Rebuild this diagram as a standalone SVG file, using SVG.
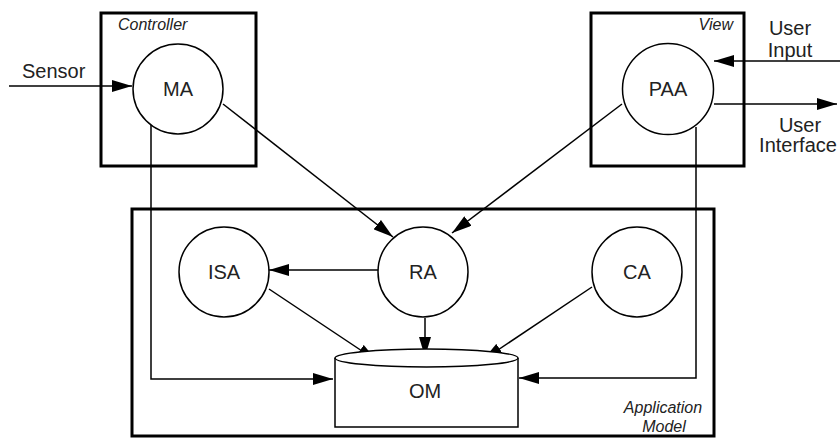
<svg xmlns="http://www.w3.org/2000/svg" width="840" height="439" viewBox="0 0 840 439">
<style>
.box{fill:none;stroke:#000;stroke-width:3}
.node{fill:#fff;stroke:#000;stroke-width:1.5}
.t{font-family:"Liberation Sans",Arial,sans-serif;font-size:20px;fill:#222}
.it{font-family:"Liberation Sans",Arial,sans-serif;font-size:16px;font-style:italic;fill:#222}
.c{fill:none;stroke:#000;stroke-width:1.5}
</style>
<defs>
<marker id="a" markerUnits="userSpaceOnUse" markerWidth="20" markerHeight="12" refX="20" refY="6" orient="auto">
<path d="M0,0 L20,6 L0,12 z" fill="#000"/>
</marker>
</defs>
<rect width="840" height="439" fill="#fff"/>
<g id="controller"><rect class="box" x="101" y="13" width="155" height="153"/><text class="it" x="118" y="30">Controller</text></g>
<g id="view"><rect class="box" x="591" y="13" width="153" height="153"/><text class="it" x="733" y="30" text-anchor="end">View</text></g>
<g id="appmodel"><rect class="box" x="132" y="209" width="582" height="227"/><text class="it" x="663" y="413" text-anchor="middle">Application</text><text class="it" x="664" y="432" text-anchor="middle">Model</text></g>
<g id="connectors">
<path class="c" d="M9,86 L132,86" marker-end="url(#a)"/>
<path class="c" d="M223,104 L393,237" marker-end="url(#a)"/>
<path class="c" d="M622,104 L452,233" marker-end="url(#a)"/>
<path class="c" d="M378,270 L269,270" marker-end="url(#a)"/>
<path class="c" d="M269,289 L377,361" marker-end="url(#a)"/>
<path class="c" d="M425,318 L425,357" marker-end="url(#a)"/>
<path class="c" d="M592,287 L483,360" marker-end="url(#a)"/>
<path class="c" d="M151,125 L151,379 L333,379" marker-end="url(#a)"/>
<path class="c" d="M696,127 L696,378 L519,378" marker-end="url(#a)"/>
<path class="c" d="M840,61 L714,61" marker-end="url(#a)"/>
<path class="c" d="M714,104 L837,104" marker-end="url(#a)"/>
</g>
<g id="MA"><circle class="node" cx="178" cy="89" r="45"/><text class="t" x="178" y="96" text-anchor="middle">MA</text></g>
<g id="PAA"><circle class="node" cx="668" cy="89" r="45.5"/><text class="t" x="668" y="96" text-anchor="middle">PAA</text></g>
<g id="ISA"><circle class="node" cx="224" cy="272" r="45"/><text class="t" x="224" y="279" text-anchor="middle">ISA</text></g>
<g id="RA"><circle class="node" cx="423" cy="272" r="45"/><text class="t" x="423" y="279" text-anchor="middle">RA</text></g>
<g id="CA"><circle class="node" cx="637" cy="272" r="45"/><text class="t" x="637" y="279" text-anchor="middle">CA</text></g>
<g id="OM"><path class="node" d="M335,358 L335,427 L518,427 L518,358"/><ellipse class="node" cx="426.5" cy="358" rx="91.5" ry="9"/><text class="t" x="425" y="398" text-anchor="middle">OM</text></g>
<g id="labels">
<text class="t" x="22" y="78">Sensor</text>
<text class="t" x="790" y="35" text-anchor="middle">User</text>
<text class="t" x="790" y="57" text-anchor="middle">Input</text>
<text class="t" x="800" y="132" text-anchor="middle">User</text>
<text class="t" x="798" y="152" text-anchor="middle">Interface</text>
</g>
</svg>
